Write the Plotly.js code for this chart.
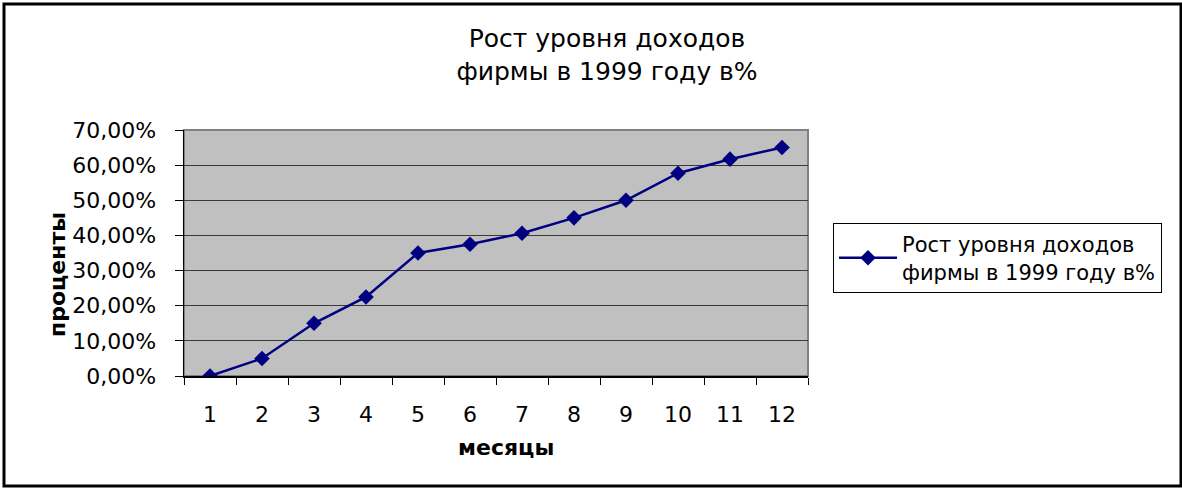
<!DOCTYPE html>
<html>
<head>
<meta charset="utf-8">
<script src="https://cdn.plot.ly/plotly-3.0.1.min.js"></script>
<style>
  html, body { margin: 0; padding: 0; background: #fff; }
  #chart { width: 1182px; height: 489px; }
</style>
</head>
<body>
<div id="chart"></div>
<script>
// ---- data ----
const months = ["1", "2", "3", "4", "5", "6", "7", "8", "9", "10", "11", "12"];
const growth = [0.0, 0.05, 0.15, 0.225, 0.35, 0.375, 0.406, 0.45, 0.50, 0.577, 0.617, 0.65];
const seriesName = "Рост уровня доходов<br>фирмы в 1999 году в%";
const chartTitle = "Рост уровня доходов<br>фирмы в 1999 году в%";
const xTitle = "месяцы";
const yTitle = "проценты";
const yTicks = [0, 0.1, 0.2, 0.3, 0.4, 0.5, 0.6, 0.7];

// plot area pixel geometry
const L = 184, R = 808, T = 130, B = 376, W = 1182, H = 489;
const px = v => (v - L) / (R - L);
const py = v => (B - v) / (B - T);

const FONT = "DejaVu Sans, Liberation Sans, Arial, sans-serif";

const trace = {
  x: months,
  y: growth,
  type: "scatter",
  mode: "lines+markers",
  name: seriesName,
  line: { color: "#000080", width: 2.5 },
  marker: { symbol: "diamond", size: 12, color: "#000080", line: { width: 0 } },
  showlegend: true
};

const layout = {
  width: W,
  height: H,
  margin: { l: L, r: W - R, t: T, b: H - B },
  paper_bgcolor: "#ffffff",
  plot_bgcolor: "#c0c0c0",
  separators: ", ",
  font: { family: FONT, size: 22, color: "#000" },
  title: {
    text: chartTitle,
    font: { family: FONT, size: 25, color: "#000" },
    xref: "container", yref: "container",
    x: 607 / W, xanchor: "center",
    y: 1 - 47 / H, yanchor: "top"
  },
  xaxis: {
    type: "category",
    range: [-0.5, 11.5],
    tickson: "boundaries",
    ticks: "outside",
    ticklen: 7,
    tickcolor: "#000",
    tickwidth: 1,
    showline: true,
    linecolor: "#000",
    linewidth: 1.5,
    showgrid: false,
    zeroline: false,
    ticklabelstandoff: 18,
    tickfont: { family: FONT, size: 22, color: "#000" },
    fixedrange: true
  },
  yaxis: {
    range: [0, 0.7],
    tickvals: yTicks,
    tickformat: ".2%",
    ticks: "outside",
    ticklen: 8,
    tickcolor: "#000",
    tickwidth: 1,
    showline: true,
    linecolor: "#000",
    linewidth: 1.5,
    showgrid: true,
    gridcolor: "#3a3a3a",
    gridwidth: 1,
    zeroline: false,
    ticklabelstandoff: 14,
    tickfont: { family: FONT, size: 22, color: "#000" },
    fixedrange: true
  },
  legend: {
    x: px(833), xanchor: "left",
    y: py(223), yanchor: "top",
    xref: "paper", yref: "paper",
    bgcolor: "#ffffff",
    bordercolor: "#000",
    borderwidth: 1,
    itemwidth: 58,
    font: { family: FONT, size: 21, color: "#000" }
  },
  annotations: [
    {
      text: "<b>" + xTitle + "</b>",
      xref: "paper", yref: "paper",
      x: px(506), y: py(447),
      xanchor: "center", yanchor: "middle",
      showarrow: false,
      font: { family: FONT, size: 22, color: "#000" }
    },
    {
      text: "<b>" + yTitle + "</b>",
      xref: "paper", yref: "paper",
      x: px(57), y: py(275),
      xanchor: "center", yanchor: "middle",
      textangle: -90,
      showarrow: false,
      font: { family: FONT, size: 22, color: "#000" }
    }
  ],
  shapes: [
    {
      type: "rect", xref: "paper", yref: "paper",
      x0: 0, x1: 1, y0: 0, y1: 1,
      line: { color: "#808080", width: 2 },
      layer: "below"
    },
    {
      type: "rect", xref: "paper", yref: "paper",
      x0: px(4), x1: px(1181), y0: py(486), y1: py(4),
      line: { color: "#000", width: 3 }
    }
  ]
};

Plotly.newPlot("chart", [trace], layout, { displayModeBar: false, staticPlot: true });
</script>
</body>
</html>
